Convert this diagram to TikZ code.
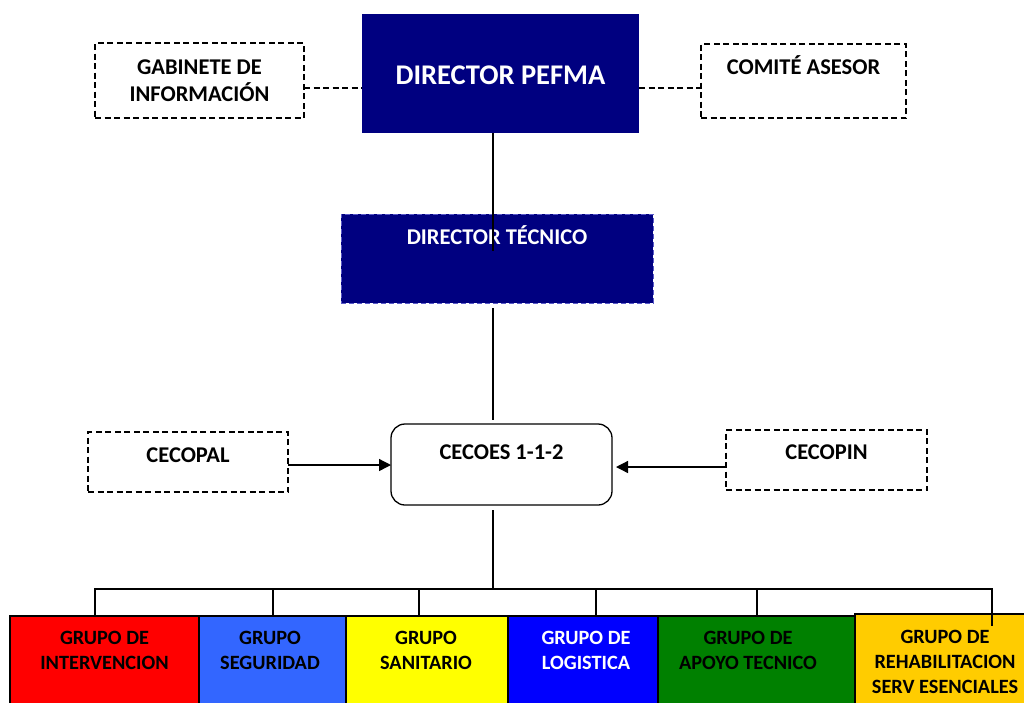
\documentclass[tikz,border=0pt]{standalone}
\usepackage{fontspec}
\setmainfont{Carlito}
\usetikzlibrary{arrows.meta}
\definecolor{navyfill}{RGB}{0,0,128}
\definecolor{techborder}{RGB}{90,90,200}
\definecolor{gred}{RGB}{255,0,0}
\definecolor{gblueA}{RGB}{51,102,255}
\definecolor{gyellow}{RGB}{255,255,0}
\definecolor{gblueB}{RGB}{0,0,255}
\definecolor{ggreen}{RGB}{0,128,0}
\definecolor{ggold}{RGB}{255,204,0}
\tikzset{
  boxbase/.style={rectangle, inner sep=0pt, outer sep=0pt},
  dashbox/.style={boxbase, draw=black, line width=1.3pt, dash pattern=on 6pt off 3.5pt},
  navybox/.style={boxbase, fill=navyfill},
  grpbox/.style={boxbase, draw=black, line width=1.2pt},
  txt/.style={align=center, inner sep=0pt, anchor=base, font=\bfseries\fontsize{22.5}{27}\selectfont},
  wtxt/.style={txt, text=white},
  gtxt/.style={txt, font=\bfseries\fontsize{20.3}{25}\selectfont},
  gwtxt/.style={gtxt, text=white},
  conn/.style={draw=black, line width=1.3pt},
  dconn/.style={draw=black, line width=1.3pt, dash pattern=on 6pt off 3.5pt},
  arr/.style={conn, -{Triangle[length=12pt,width=12pt]}}
}
\begin{document}
\begin{tikzpicture}[x=1pt,y=-1pt]
\useasboundingbox (0,0) rectangle (1024,702);
% top row
\node[dashbox, minimum width=209pt, minimum height=75pt] (gab) at (199.5,80.5) {};
\node[navybox, minimum width=277pt, minimum height=119pt] (dir) at (500.5,73.5) {};
\node[dashbox, minimum width=205pt, minimum height=74pt] (com) at (803.5,81) {};
\node[txt] (gabt) at (199.5,101) {GABINETE DE\\INFORMACIÓN};
\node[wtxt, font=\bfseries\fontsize{28.5}{32}\selectfont] (dirt) at (500.5,84) {DIRECTOR PEFMA};
\node[txt] (comt) at (803.5,74) {COMITÉ ASESOR};
\coordinate (gabR) at (gab.east |- 0,88);
\coordinate (dirL) at (dir.west |- 0,88);
\coordinate (dirR) at (dir.east |- 0,88);
\coordinate (comL) at (com.west |- 0,88);
\draw[dconn] (gabR) -- (dirL);
\draw[dconn] (dirR) -- (comL);
% director tecnico
\node[navybox, draw=techborder, line width=1pt, dash pattern=on 5pt off 3pt, minimum width=312pt, minimum height=89pt] (tec) at (497,258.5) {};
\node[wtxt] (tect) at (497,244) {DIRECTOR TÉCNICO};
\coordinate (tecin) at (493,251);
\draw[conn] (dir.south -| 493,0) -- (tecin);
% cecoes row
\node[boxbase, draw=black, line width=1.3pt, rounded corners=14pt, minimum width=221pt, minimum height=81pt] (cec) at (501.5,464.5) {};
\node[txt] (cect) at (501.5,459) {CECOES 1-1-2};
\node[dashbox, minimum width=200pt, minimum height=60pt] (pal) at (188,462) {};
\node[txt] (palt) at (188,462) {CECOPAL};
\node[dashbox, minimum width=201pt, minimum height=60pt] (pin) at (826.5,460) {};
\node[txt] (pint) at (826.5,459) {CECOPIN};
\coordinate (tecout) at (493,308);
\coordinate (cecin) at (493,420);
\draw[conn] (tecout) -- (cecin);
\draw[arr] (pal.east |- 0,465) -- (cec.west |- 0,465);
\draw[arr] (pin.west |- 0,467) -- ([xshift=4pt]cec.east |- 0,467);
% groups
\node[grpbox, fill=gred,   minimum width=189pt, minimum height=90pt] (g1) at (104.5,661) {};
\node[grpbox, fill=gblueA, minimum width=147pt, minimum height=90pt] (g2) at (272.5,661) {};
\node[grpbox, fill=gyellow,minimum width=162pt, minimum height=90pt] (g3) at (427,661) {};
\node[grpbox, fill=gblueB, minimum width=150pt, minimum height=90pt] (g4) at (583,661) {};
\node[grpbox, fill=ggreen, minimum width=197pt, minimum height=90pt] (g5) at (756.5,661) {};
\node[grpbox, fill=ggold,  minimum width=171pt, minimum height=92pt] (g6) at (940.5,660) {};
\node[gtxt] (g1t) at (104.5,669.5) {GRUPO DE\\INTERVENCION};
\node[gtxt] (g2t) at (270,669.5) {GRUPO\\SEGURIDAD};
\node[gtxt] (g3t) at (426,669.5) {GRUPO\\SANITARIO};
\node[gwtxt] (g4t) at (586,669.5) {GRUPO DE\\LOGISTICA};
\node[gtxt] (g5t) at (748,669.5) {GRUPO DE\\APOYO TECNICO};
\node[gtxt] (g6t) at (945,693.5) {GRUPO DE\\REHABILITACION\\SERV ESENCIALES};
% bus
\coordinate (cecout) at (493,510);
\coordinate (bus) at (493,589);
\draw[conn] (cecout) -- (bus);
\draw[conn] (95,616) -- (95,589) -- (992,589) -- (992,626);
\foreach \n/\x in {2/273,3/419,4/596,5/757}{
  \draw[conn] (\x,589) -- (\x,616);
}
\end{tikzpicture}
\end{document}
